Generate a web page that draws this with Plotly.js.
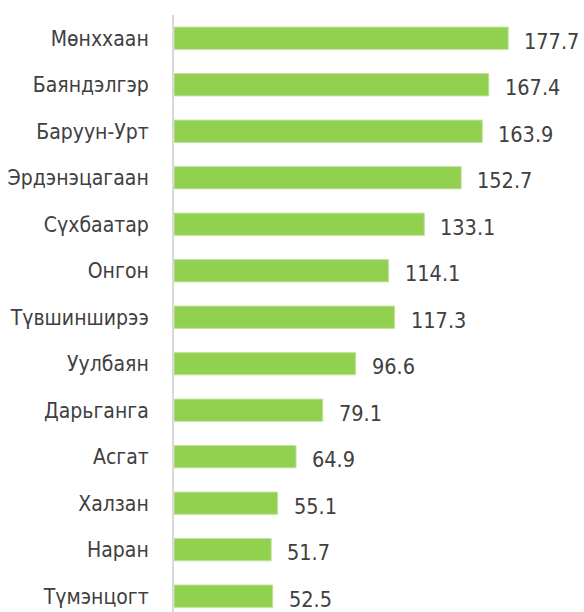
<!DOCTYPE html>
<html><head><meta charset="utf-8">
<script src="https://cdn.plot.ly/plotly-3.0.1.min.js"></script>
<style>html,body{margin:0;padding:0;background:#fff}</style>
</head><body>
<div id="chart" style="width:584px;height:612px"></div>
<script>
const categories = ["Мөнххаан","Баяндэлгэр","Баруун-Урт","Эрдэнэцагаан","Сүхбаатар","Онгон","Түвшинширээ","Уулбаян","Дарьганга","Асгат","Халзан","Наран","Түмэнцогт"];
const values = [177.7,167.4,163.9,152.7,133.1,114.1,117.3,96.6,79.1,64.9,55.1,51.7,52.5];
const valueLabels = ["177.7","167.4","163.9","152.7","133.1","114.1","117.3","96.6","79.1","64.9","55.1","51.7","52.5"];

const font = "'Liberation Sans Narrow','Arial Narrow','DejaVu Sans Condensed',sans-serif";
const trace = {
  type: 'bar', orientation: 'h',
  x: values, y: categories,
  marker: {color: '#92D050', line: {color: '#C4E3A3', width: 1}},
  width: 0.48, hoverinfo: 'skip'
};
const annotations = values.map((v, i) => ({
  x: v, y: categories[i], xref: 'x', yref: 'y',
  text: valueLabels[i], showarrow: false,
  xanchor: 'left', yanchor: 'middle', xshift: 14, yshift: -3,
  font: {family: font, size: 21.5, color: '#404040'}
}));
const layout = {
  width: 584, height: 612,
  margin: {l: 174, r: 0, t: 15, b: 0, pad: 0},
  paper_bgcolor: '#fff', plot_bgcolor: '#fff',
  showlegend: false,
  xaxis: {range: [0, 218], visible: false, fixedrange: true},
  yaxis: {
    type: 'category', range: [12.34, -0.5],
    showline: true, linecolor: '#D9D9D9', linewidth: 2,
    showgrid: false, zeroline: false, ticks: '',
    ticklabelstandoff: 19,
    tickfont: {family: font, size: 21, color: '#404040'}
  },
  annotations: annotations
};
Plotly.newPlot('chart', [trace], layout, {displayModeBar: false, staticPlot: true});
</script>
</body></html>
